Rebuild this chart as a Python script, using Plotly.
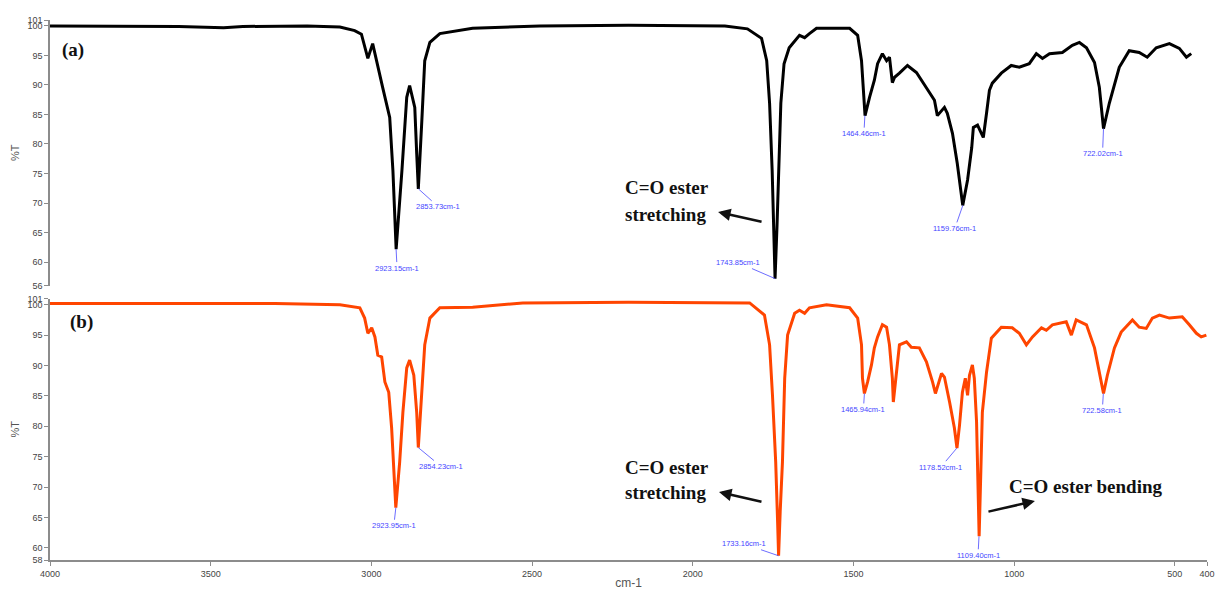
import plotly.graph_objects as go

# ---------------- data ----------------
# Spectrum (a) - black
wn_a = [4000, 3800, 3600, 3460, 3400, 3200, 3098, 3052, 3031, 3011, 2996, 2965, 2943, 2933, 2923,
        2905, 2890, 2881, 2865, 2859, 2854, 2843, 2834, 2818, 2787, 2685, 2476, 2200, 2000, 1900,
        1830, 1786, 1770, 1761, 1753, 1748, 1744, 1738, 1732, 1726, 1716, 1700, 1668, 1652, 1637,
        1615, 1512, 1487, 1475, 1469, 1464, 1450, 1435, 1425, 1410, 1397, 1388, 1379, 1372, 1357,
        1332, 1304, 1273, 1248, 1239, 1217, 1208, 1192, 1177, 1160, 1145, 1132, 1127, 1114, 1102,
        1096, 1086, 1077, 1068, 1040, 1009, 984, 953, 931, 912, 890, 850, 819, 797, 775,
        750, 735, 722, 704, 673, 642, 611, 586, 558, 517, 486, 464, 449]
t_a = [100.0, 100.0, 99.9, 99.7, 99.9, 100.0, 99.8, 99.2, 98.6, 94.5, 97.0, 89.6, 84.5, 75.5, 62.2,
       75.5, 87.9, 89.9, 86.2, 78.4, 72.4, 84.0, 94.1, 97.2, 98.7, 99.6, 100.0, 100.1, 100.1, 100.0,
       99.5, 97.9, 94.1, 86.9, 75.5, 66.0, 57.2, 66.0, 76.0, 86.9, 93.6, 96.3, 98.4, 98.0, 98.7,
       99.6, 99.6, 98.4, 94.1, 87.9, 84.8, 87.9, 90.8, 93.6, 95.3, 94.1, 94.7, 90.4, 91.3, 92.0,
       93.3, 92.1, 89.6, 87.4, 84.8, 86.2, 85.2, 81.8, 76.7, 69.6, 73.9, 79.4, 82.8, 83.2, 81.8,
       81.1, 85.2, 89.1, 90.3, 92.0, 93.3, 93.0, 93.6, 95.3, 94.5, 95.3, 95.5, 96.7, 97.2, 96.3,
       93.8, 89.6, 82.6, 86.9, 93.0, 95.8, 95.5, 94.7, 96.3, 97.0, 96.2, 94.7, 95.3]

# Spectrum (b) - orange
wn_b = [4000, 3800, 3500, 3300, 3098, 3036, 3021, 3011, 2999, 2989, 2980, 2968, 2958, 2946, 2937,
        2930, 2924, 2912, 2902, 2890, 2881, 2868, 2859, 2854, 2843, 2834, 2818, 2787, 2685, 2529,
        2200, 2000, 1823, 1777, 1761, 1752, 1742, 1736, 1733, 1728, 1721, 1714, 1705, 1683, 1668,
        1652, 1637, 1584, 1512, 1487, 1475, 1472, 1466, 1456, 1444, 1435, 1425, 1410, 1397, 1388,
        1379, 1376, 1366, 1357, 1335, 1320, 1295, 1273, 1254, 1245, 1226, 1217, 1201, 1186, 1178,
        1170, 1161, 1152, 1145, 1139, 1130, 1124, 1117, 1112, 1109, 1104, 1099, 1086, 1071, 1040,
        1006, 984, 962, 943, 915, 900, 881, 838, 822, 807, 775, 750, 729, 722, 710,
        688, 667, 632, 611, 589, 570, 548, 517, 477, 455, 433, 418, 402]
t_b = [100.2, 100.2, 100.1, 100.2, 100.0, 99.5, 97.8, 95.3, 96.2, 94.7, 91.7, 91.4, 87.3, 85.6, 79.7,
       71.4, 66.6, 74.1, 82.3, 89.6, 90.9, 88.4, 82.3, 76.5, 85.1, 93.4, 97.8, 99.5, 99.6, 100.3,
       100.4, 100.4, 100.3, 98.3, 93.4, 85.1, 74.1, 64.2, 58.7, 66.0, 74.1, 87.9, 95.0, 98.6, 99.1,
       98.6, 99.5, 100.0, 99.5, 97.8, 93.4, 87.9, 85.4, 87.3, 90.1, 92.9, 94.7, 96.7, 96.3, 93.4,
       87.9, 84.0, 89.6, 93.4, 93.9, 93.0, 92.9, 90.6, 87.3, 85.4, 88.7, 88.1, 84.0, 79.7, 76.4,
       80.2, 85.6, 87.9, 85.1, 88.4, 90.1, 87.9, 80.7, 71.0, 61.9, 72.0, 82.3, 88.9, 94.5, 96.3,
       96.2, 95.3, 93.4, 94.7, 96.2, 95.8, 96.7, 97.2, 95.0, 97.5, 96.7, 92.9, 87.3, 85.4, 88.4,
       92.9, 95.5, 97.5, 96.3, 96.1, 97.8, 98.3, 97.8, 98.0, 96.7, 95.3, 94.7, 95.0]

# Peak labels
peaks_a_wn = [2923.15, 2853.73, 1743.85, 1464.46, 1159.76, 722.02]
peaks_a_t = [62.2, 72.4, 57.2, 84.8, 69.6, 82.6]
peaks_b_wn = [2923.95, 2854.23, 1733.16, 1465.94, 1178.52, 1109.40, 722.58]
peaks_b_t = [66.6, 76.5, 58.7, 85.4, 76.4, 61.9, 85.4]

x_ticks = [4000, 3500, 3000, 2500, 2000, 1500, 1000, 500, 400]
y_ticks_a = [56, 60, 65, 70, 75, 80, 85, 90, 95, 100, 101]
y_ticks_b = [58, 60, 65, 70, 75, 80, 85, 90, 95, 100, 101]

# label placement (pixel offsets from peak to label)
offs_a = [(1, 19), (20, 18), (-37, -16), (-1, 18), (-8, 23), (-1, 25)]
offs_b = [(-2, 18), (23, 19), (-35, -12), (-1, 16), (-16, 19), (-1, 19), (-1, 17)]

# ---------------- figure ----------------
fig = go.Figure()
fig.add_trace(go.Scatter(x=wn_a, y=t_a, mode="lines", xaxis="x", yaxis="y",
                         line=dict(color="#000000", width=3), showlegend=False))
fig.add_trace(go.Scatter(x=wn_b, y=t_b, mode="lines", xaxis="x2", yaxis="y2",
                         line=dict(color="#ff4500", width=3), showlegend=False))

axis_col = "#8c8c8c"
tick_font = dict(family="Liberation Sans Narrow, Arial Narrow, Liberation Sans, Arial", size=9, color="#444444")

common_y = dict(showline=True, linecolor=axis_col, linewidth=1.5, ticks="outside", ticklen=4,
                tickcolor=axis_col, tickfont=tick_font, showgrid=False, zeroline=False,
                automargin=False)

fig.update_layout(
    width=1215, height=590,
    margin=dict(l=50, r=8, t=20, b=30, autoexpand=False),
    paper_bgcolor="white", plot_bgcolor="white",
    xaxis=dict(domain=[0, 1], range=[4000, 400], anchor="y", visible=False, showgrid=False,
               automargin=False),
    yaxis=dict(domain=[0.508, 1.0], range=[56, 101], anchor="x", tickvals=y_ticks_a,
               title=dict(text="%T", font=dict(family="Liberation Sans, Arial", size=11, color="#555555"),
                          standoff=6), **common_y),
    xaxis2=dict(domain=[0, 1], range=[4000, 400], anchor="y2", tickvals=x_ticks,
                showline=True, linecolor=axis_col, linewidth=2, ticks="outside", ticklen=4,
                tickcolor=axis_col, tickfont=tick_font, showgrid=False, zeroline=False,
                automargin=False,
                title=dict(text="cm-1", font=dict(family="Liberation Sans, Arial", size=12, color="#555555"),
                           standoff=4)),
    yaxis2=dict(domain=[0.0, 0.484], range=[58, 101], anchor="x2", tickvals=y_ticks_b,
                title=dict(text="%T", font=dict(family="Liberation Sans, Arial", size=11, color="#555555"),
                           standoff=6), **common_y),
)

lab_font = dict(family="Liberation Sans, Arial", size=7.5, color="#4646ff")
for wn, t, (ax, ay) in zip(peaks_a_wn, peaks_a_t, offs_a):
    fig.add_annotation(x=wn, y=t, xref="x", yref="y", text=f"{wn:.2f}cm-1", showarrow=True,
                       ax=ax, ay=ay, arrowhead=0, arrowwidth=0.8, arrowcolor="#4646ff",
                       standoff=0, font=lab_font)
for wn, t, (ax, ay) in zip(peaks_b_wn, peaks_b_t, offs_b):
    fig.add_annotation(x=wn, y=t, xref="x2", yref="y2", text=f"{wn:.2f}cm-1", showarrow=True,
                       ax=ax, ay=ay, arrowhead=0, arrowwidth=0.8, arrowcolor="#4646ff",
                       standoff=0, font=lab_font)

big_font = dict(family="Liberation Serif, Times New Roman, serif", size=19, color="#111111")
texts = [
    ("<b>(a)</b>", 0.0203, 0.9444),
    ("<b>(b)</b>", 0.0274, 0.4407),
    ("<b>C=O ester</b>", 0.5333, 0.6907),
    ("<b>stretching</b>", 0.5324, 0.6389),
    ("<b>C=O ester</b>", 0.5333, 0.1704),
    ("<b>stretching</b>", 0.5324, 0.1241),
    ("<b>C=O ester bending</b>", 0.8954, 0.1352),
]
for txt, px, py in texts:
    fig.add_annotation(x=px, y=py, xref="paper", yref="paper", text=txt, showarrow=False,
                       xanchor="center", yanchor="middle", font=big_font)

arrows = [
    (0.5774, 0.6444, 45, 10),
    (0.5782, 0.1259, 44, 10),
    (0.8513, 0.1093, -48, 11),
]
for hx, hy, ax, ay in arrows:
    fig.add_annotation(x=hx, y=hy, xref="paper", yref="paper", text="", showarrow=True,
                       ax=ax, ay=ay, arrowhead=2, arrowsize=1, arrowwidth=2.5, arrowcolor="#111111")

fig.write_html("out.html", config={"displayModeBar": False},
               post_script="document.body.style.margin='0';document.body.style.overflow='hidden';")
